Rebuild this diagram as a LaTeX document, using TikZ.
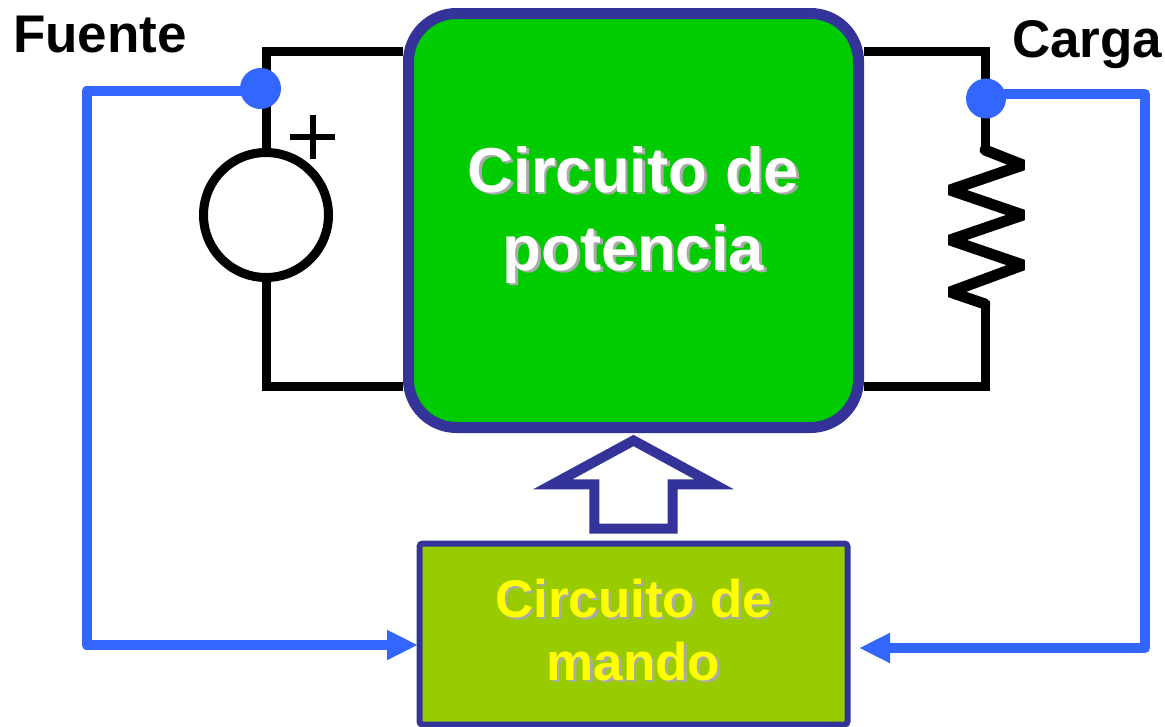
\documentclass[tikz,border=0pt]{standalone}
\usepackage{fontspec}
\setmainfont{Liberation Sans}
\usetikzlibrary{positioning,arrows.meta,shapes.arrows}
\definecolor{colorpower}   {RGB}{  0,204,  0}
\definecolor{colorcontrol} {RGB}{153,204,  0}
\definecolor{colorborder}  {RGB}{ 51, 51,153}
\definecolor{colorsense}   {RGB}{ 51,102,255}
\definecolor{colorshadow}  {RGB}{170,170,170}
\definecolor{colormando}   {RGB}{255,255,  0}
\newcommand{\shadowed}[1]{\leavevmode\rlap{\kern2.5pt\raisebox{-2.5pt}{\textcolor{colorshadow}{#1}}}#1}

\begin{document}
\begin{tikzpicture}[
    x=1pt, y=-1pt,
    node distance = 107.5pt,
    base/.style={font={\bfseries},align=center,inner sep=0pt},
    label/.style={base,font={\fontsize{53}{60}\selectfont\bfseries}},
    wire/.style={draw=black,line width=9pt},
    sense/.style={draw=colorsense,line width=10pt,line join=round},
    sensetip/.style={-{Triangle[length=31pt,width=28pt]}},
    junction/.style={circle,fill=colorsense,inner sep=0pt,minimum size=41pt},
    blockpower/.style={draw=colorborder,fill=colorpower,line width=11pt,rounded corners=48pt,
        minimum width=450pt,minimum height=414pt},
    blockcontrol/.style={draw=colorborder,fill=colorcontrol,line width=6pt,rounded corners=3pt,
        minimum width=428pt,minimum height=181pt},
]
    \useasboundingbox (0,0) rectangle (1165,726);

    \node[blockpower]                   (power)   at (633.5,220.5) {};
    \node[blockcontrol,below=of power]  (control) {};

    \node[base,text=white,font={\fontsize{63.5}{78}\selectfont\bfseries}] (powertxt) at (633.5,216)
        {\shadowed{Circuito de}\\\shadowed{potencia}};
    \node[base,text=colormando,font={\fontsize{53}{63}\selectfont\bfseries}] (controltxt) at (633.5,631)
        {\shadowed{Circuito de}\\\shadowed{mando}};

    % Drive arrow
    \node[single arrow,shape border rotate=90,draw=colorborder,fill=white,line width=10pt,
        minimum height=88pt,minimum width=162pt,single arrow head extend=40.5pt,
        single arrow tip angle=123,inner ysep=0pt,inner xsep=32.75pt,above=7pt of control] (drive) {};

    % Source
    \node[circle,draw=black,line width=9pt,minimum size=125pt,inner sep=0pt] (source) at (266,215) {};
    \coordinate (topleft) at (266,51);
    \coordinate (botleft) at (266,386);
    \draw[wire] (source.north) -- (topleft) -- (power.west |- topleft);
    \draw[wire] (source.south) -- (botleft) -- (power.west |- botleft);
    \draw[black,line width=6pt] (290,137) -- (335,137) (312.7,115) -- (312.7,159);

    % Load
    \coordinate (topright) at (985,51);
    \coordinate (botright) at (985,386);
    \coordinate (restop)   at (985,147);
    \coordinate (resbot)   at (985,303);
    \draw[wire] (power.east |- topright) -- (topright) -- (restop);
    \draw[wire] (resbot) -- (botright) -- (power.east |- botright);
    \draw[wire,line width=11pt,line join=bevel,line cap=round] (985,150) -- (1023,165) -- (950,190) -- (1023,215)
        -- (950,240) -- (1023,265) -- (950,292) -- (985,304);

    % Sense lines
    \coordinate (leftup)   at (86.5,91);
    \coordinate (leftdown) at (86.5,645);
    \coordinate (lefttip)  at (418,645);
    \coordinate (rightup)  at (1145,94);
    \coordinate (rightdown) at (1145,648);
    \coordinate (righttip) at (859,648);
    \node[junction] (dotsource) at (260.5,88.5) {};
    \node[junction,minimum size=40pt] (dotload) at (986,98.5) {};
    \draw[sense,sensetip] (dotsource.center |- leftup) -- (leftup) -- (leftdown) -- (lefttip);
    \draw[sense,sensetip] (dotload.center |- rightup) -- (rightup) -- (rightdown) -- (righttip);

    \node[label,anchor=base west] (fuente) at (13,52) {Fuente};
    \node[label,anchor=base west] (carga)  at (1012,57) {Carga};

\end{tikzpicture}
\end{document}
